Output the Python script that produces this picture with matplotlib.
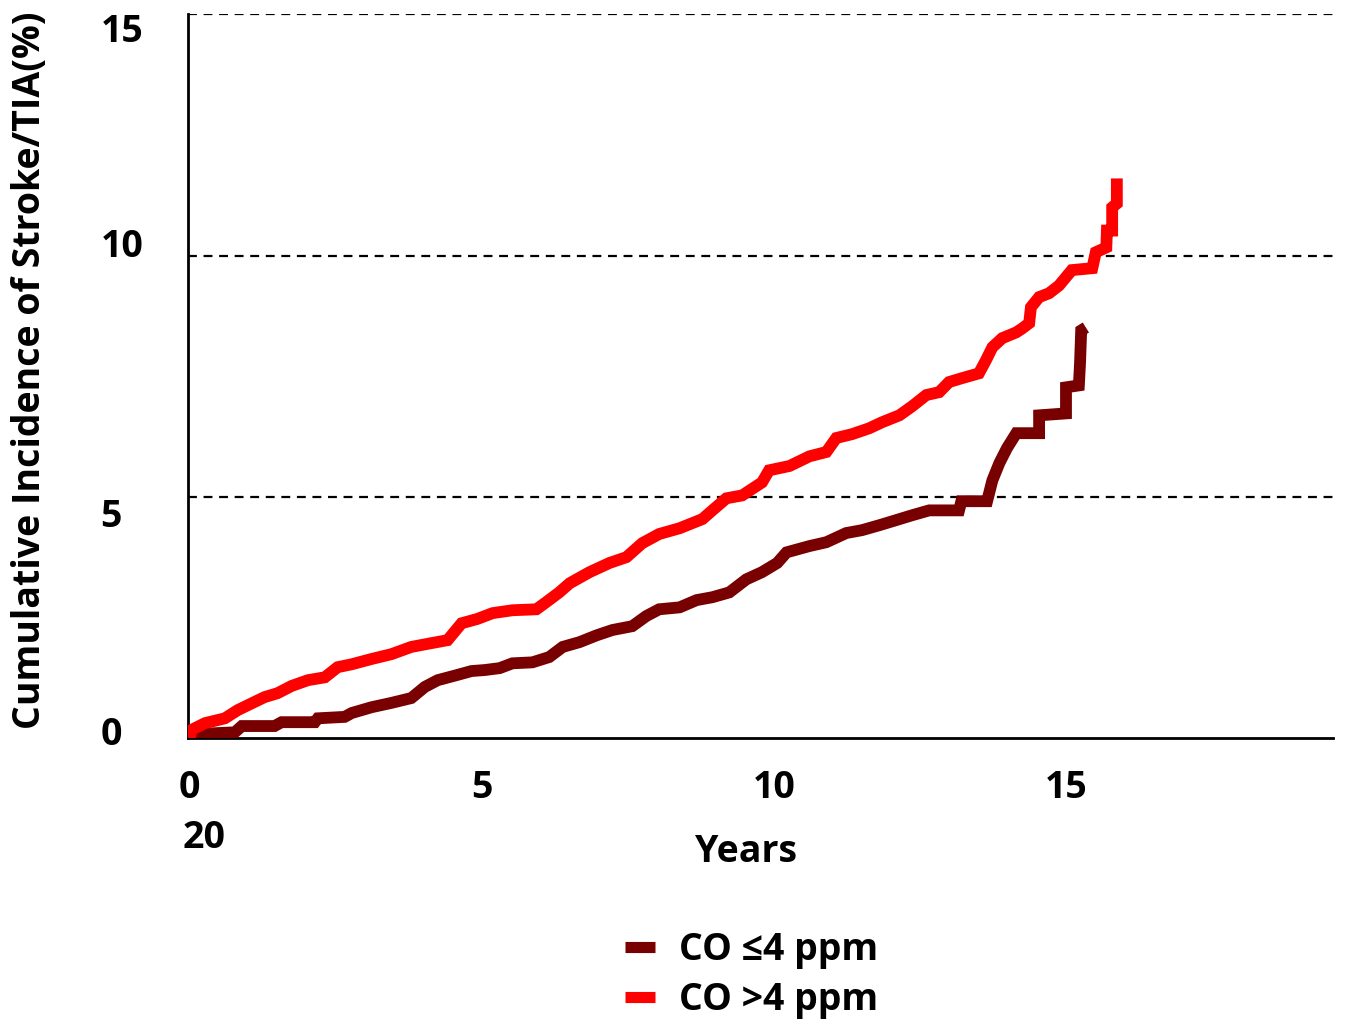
import matplotlib
matplotlib.use('Agg')
import matplotlib.pyplot as plt
from matplotlib.transforms import ScaledTranslation

plt.rcParams['font.family'] = ['Open Sans', 'DejaVu Sans']
plt.rcParams['font.weight'] = 'bold'
plt.rcParams['axes.labelweight'] = 'bold'

# CO <=4 ppm (dark red)
low_years = [0, 0.03, 0.77, 0.89, 1.45, 1.57, 2.14, 2.19, 2.65, 2.77, 3.11, 3.45,
             3.79, 4.02, 4.24, 4.58, 4.82, 5.04, 5.30, 5.52, 5.86, 6.15, 6.38,
             6.67, 6.96, 7.23, 7.57, 7.81, 8.03, 8.38, 8.67, 8.94, 9.23, 9.52,
             9.79, 10.05, 10.21, 10.60, 10.89, 11.23, 11.50, 11.79, 12.09, 12.36,
             12.65, 13.16, 13.20, 13.64, 13.73, 13.85, 13.98, 14.14, 14.53, 14.53,
             14.99, 14.99, 15.21, 15.23, 15.25, 15.33]
low_inc = [0, 0.08, 0.12, 0.25, 0.25, 0.33, 0.33, 0.41, 0.44, 0.52, 0.64, 0.73,
           0.83, 1.06, 1.20, 1.31, 1.39, 1.41, 1.45, 1.55, 1.57, 1.68, 1.89,
           1.99, 2.13, 2.24, 2.32, 2.53, 2.67, 2.71, 2.86, 2.92, 3.02, 3.29,
           3.44, 3.63, 3.85, 3.98, 4.06, 4.25, 4.31, 4.41, 4.52, 4.62,
           4.72, 4.72, 4.91, 4.91, 5.34, 5.70, 6.01, 6.32, 6.32, 6.69,
           6.73, 7.27, 7.31, 7.77, 8.45, 8.51]

# CO >4 ppm (red)
high_years = [0, 0.03, 0.26, 0.60, 0.82, 0.99, 1.28, 1.50, 1.74, 2.02, 2.31, 2.53,
              2.77, 3.11, 3.45, 3.79, 4.14, 4.41, 4.65, 4.92, 5.18, 5.52, 5.93,
              6.10, 6.32, 6.50, 6.84, 7.18, 7.47, 7.74, 8.03, 8.38, 8.77, 8.94,
              9.18, 9.45, 9.79, 9.91, 10.26, 10.60, 10.89, 11.06, 11.33, 11.62,
              11.85, 12.14, 12.36, 12.60, 12.82, 12.99, 13.21, 13.50, 13.62, 13.73,
              13.90, 14.14, 14.24, 14.36, 14.39, 14.53, 14.70, 14.87, 15.09, 15.44,
              15.50, 15.68, 15.69, 15.78, 15.78, 15.86, 15.86]
high_inc = [0, 0.17, 0.31, 0.41, 0.58, 0.68, 0.85, 0.93, 1.08, 1.20, 1.26, 1.47,
            1.53, 1.64, 1.74, 1.89, 1.97, 2.03, 2.38, 2.47, 2.59, 2.65, 2.67,
            2.82, 3.02, 3.21, 3.44, 3.63, 3.75, 4.04, 4.23, 4.35, 4.54, 4.72,
            4.97, 5.03, 5.30, 5.55, 5.64, 5.84, 5.93, 6.22, 6.30, 6.42,
            6.55, 6.69, 6.88, 7.11, 7.17, 7.38, 7.46, 7.56, 7.83, 8.10,
            8.29, 8.41, 8.49, 8.60, 8.93, 9.14, 9.22, 9.38, 9.70, 9.74,
            10.07, 10.17, 10.52, 10.52, 11.00, 11.08, 11.60]

y_ticks = [0, 5, 10, 15]
x_ticks = [0, 5, 10, 15]

fig = plt.figure(figsize=(13.46, 10.28), dpi=100)
ax = fig.add_axes([0.1397, 0.282, 0.8503, 0.704])

for v in [5, 10, 15]:
    ax.axhline(v, color='black', lw=1.6, ls=(0, (4, 3)), zorder=1)

ax.plot(low_years, low_inc, color='#780000', lw=8.5, solid_joinstyle='miter',
        solid_capstyle='butt', label='CO \u22644 ppm', zorder=3)
ax.plot(high_years, high_inc, color='#ff0000', lw=8.5, solid_joinstyle='miter',
        solid_capstyle='butt', label='CO >4 ppm', zorder=3)

ax.set_xlim(-0.03, 19.55)
ax.set_ylim(0, 15)
ax.set_xticks(x_ticks)
ax.set_yticks(y_ticks)
ax.tick_params(length=0, labelsize=27)
ax.tick_params(axis='x', pad=22)
ax.tick_params(axis='y', pad=63)
# y labels are left aligned in the reference, each a little off its line
offs = {'0': -8, '5': 16, '10': -13, '15': 13}
for lab in ax.get_yticklabels():
    lab.set_horizontalalignment('left')
    d = offs.get(lab.get_text(), 0)
    lab.set_transform(lab.get_transform() + ScaledTranslation(0, -d / 100, fig.dpi_scale_trans))

for s in ['top', 'right']:
    ax.spines[s].set_visible(False)
for s in ['left', 'bottom']:
    ax.spines[s].set_linewidth(2)

ax.set_xlabel('Years', fontsize=27, va='center')
ax.xaxis.set_label_coords((746 - 188) / 1145, (738 - 852) / 724)
fig.text(0.0223, 0.64, 'Cumulative Incidence of Stroke/TIA(%)', rotation=90,
         fontsize=27, ha='center', va='center')
fig.text(183 / 1346, 1 - 838 / 1028, '20', fontsize=27, ha='left', va='center')

leg = fig.legend(loc='center left', bbox_to_anchor=(625 / 1346, 1 - 975 / 1028),
                 frameon=False, fontsize=27, handlelength=0.8, handletextpad=0.65,
                 labelspacing=0.3, borderpad=0, borderaxespad=0)
for h in leg.get_lines():
    h.set_linewidth(8)

fig.savefig('out.png', dpi=100)
